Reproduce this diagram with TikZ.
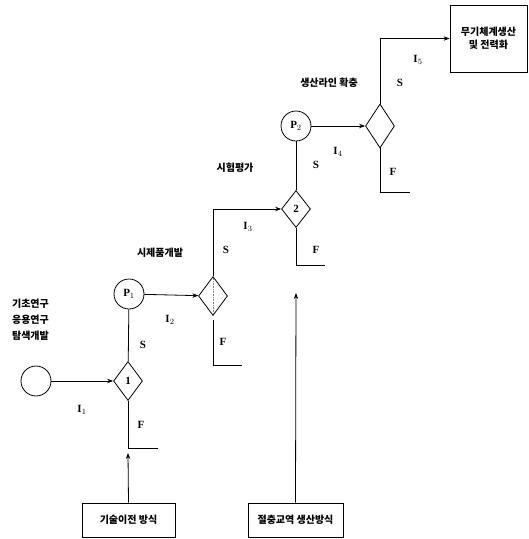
\documentclass[tikz,border=0pt]{standalone}
\usepackage{fontspec}
\setmainfont{Liberation Serif}
\newfontfamily\kr{Noto Sans CJK KR}
\usetikzlibrary{shapes.geometric,arrows.meta}
\tikzset{
  ln/.style={line width=0.8pt},
  arr/.style={ln,-{Stealth[length=6pt,width=4.5pt]}},
  circ/.style={draw,ln,circle,inner sep=0pt,minimum size=30pt,font=\bfseries\fontsize{11}{12}\selectfont},
  dia/.style={draw,ln,diamond,inner sep=0pt,minimum width=29pt,minimum height=39pt,font=\bfseries\fontsize{11}{12}\selectfont},
  boxx/.style={draw,ln,rectangle,inner sep=2pt,font=\kr\bfseries\fontsize{10}{13}\selectfont,align=center},
  lab/.style={font=\bfseries\fontsize{11}{12}\selectfont},
  krl/.style={font=\kr\bfseries\fontsize{10}{16}\selectfont,align=center}
}
\begin{document}
\begin{tikzpicture}[x=1pt,y=-1pt]
\useasboundingbox (0,0) rectangle (529,539);
% nodes
\node[circ] (c0) at (36,381) {};
\node[dia] (d1) at (128,381) {1};
\node[circ] (p1) at (129,294) {P$_1$};
\node[dia] (dh) at (213,296) {};
\node[dia,minimum height=37pt] (d2) at (296,209) {2};
\node[circ] (p2) at (296,126) {P$_2$};
\node[dia,minimum height=44pt] (d3) at (380,126) {};
\node[boxx,minimum width=77pt,minimum height=67pt] (fin) at (488.5,38.5) {무기체계생산\\및 전력화};
\node[boxx,minimum width=93pt,minimum height=34pt] (b1) at (128.5,520) {기술이전 방식};
\node[boxx,minimum width=95pt,minimum height=34pt] (b2) at (295.5,520) {절충교역 생산방식};
% hatch in diamond
\draw[densely dotted,gray,line width=0.6pt] (dh.north) -- (dh.south);
% coordinates
\coordinate (f1a) at (128,448); \coordinate (f1b) at (158,448);
\coordinate (a1) at (128,453);
\coordinate (fha) at (213,365); \coordinate (fhb) at (242,365);
\coordinate (f2a) at (296,265); \coordinate (f2b) at (325,265);
\coordinate (a2) at (296,293);
\coordinate (f3a) at (380,192); \coordinate (f3b) at (410,192);
% connectors
\draw[arr] (c0) -- (d1);
\draw[ln] (p1) -- (d1);
\draw[arr] (p1) -- (dh);
\draw[arr] (dh.north) |- (d2.west);
\draw[ln] (d2) -- (p2);
\draw[arr] (p2) -- (d3);
\draw[arr] (d3.north) |- (fin.west);
\draw[ln] (d1.south) -- (f1a) -- (f1b);
\draw[ln] ([yshift=-4pt]dh.south) -- (fha) -- (fhb);
\draw[ln] (d2.south) -- (f2a) -- (f2b);
\draw[ln] (d3.south) -- (f3a) -- (f3b);
\draw[arr] (b1.north) -- (a1);
\draw[arr] (b2.north) -- (a2);
% labels
\node[krl] (t0) at (30.5,320) {기초연구\\응용연구\\탐색개발};
\node[krl] (t1) at (160,253) {시제품개발};
\node[krl] (t2) at (235,168) {시험평가};
\node[krl] (t3) at (329,83) {생산라인 확충};
\node[lab] (i1) at (82,410) {I$_1$};
\node[lab] (i2) at (170,320) {I$_2$};
\node[lab] (i3) at (248,227) {I$_3$};
\node[lab] (i4) at (338,152) {I$_4$};
\node[lab] (i5) at (418,60) {I$_5$};
\node[lab] (s1) at (143,345) {S};
\node[lab] (s2) at (226,250) {S};
\node[lab] (s3) at (316,165) {S};
\node[lab] (s4) at (400,83) {S};
\node[lab] (fl1) at (141,425) {F};
\node[lab] (fl2) at (223,342) {F};
\node[lab] (fl3) at (316,250) {F};
\node[lab] (fl4) at (393,172) {F};
\end{tikzpicture}
\end{document}
